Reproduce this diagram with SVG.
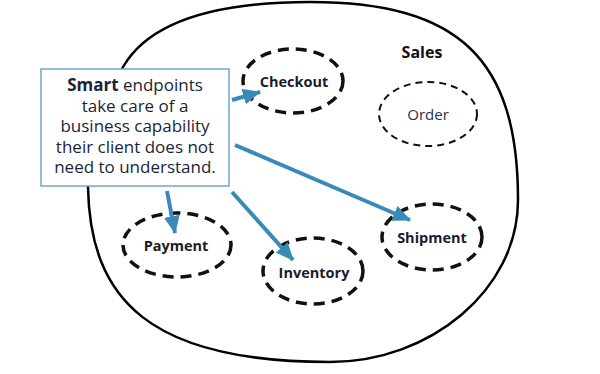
<svg xmlns="http://www.w3.org/2000/svg" width="600" height="374" viewBox="0 0 600 374">
<style>
.ctx{fill:none;stroke:#000;stroke-width:2.5}
.svc{fill:none;stroke:#111;stroke-width:3.5;stroke-dasharray:11 7}
.ent{fill:none;stroke:#111;stroke-width:2;stroke-dasharray:7 5}
.lbl{font-family:"Open Sans","DejaVu Sans",sans-serif;font-size:14.5px;font-weight:bold;fill:#1b1b2b;text-anchor:middle;dominant-baseline:central}
.ord{font-family:"Open Sans","DejaVu Sans",sans-serif;font-size:15px;fill:#1f2f4f;text-anchor:middle;dominant-baseline:central}
.title{font-family:"Open Sans","DejaVu Sans",sans-serif;font-size:16px;font-weight:bold;fill:#111;text-anchor:middle}
.note{font-family:"Open Sans","DejaVu Sans",sans-serif;font-size:17px;fill:#1c2535;text-anchor:middle}
.arr{fill:none;stroke:#3a8ab8;stroke-width:4;marker-end:url(#ah)}
</style>
<defs>
<marker id="ah" markerUnits="userSpaceOnUse" viewBox="0 0 18 16" markerWidth="18" markerHeight="16" refX="17" refY="8" orient="auto">
<path d="M0,0 L18,8 L0,16 z" fill="#3a8ab8"/>
</marker>
</defs>
<g id="sales">
<path class="ctx" d="M88,187 C90,300 150,362 330,362 C430,362 518,290 518,200 C518,60 460,2 310,2 C220,2 150,20 123,67 C105,100 88,140 88,187 Z"/>
<text class="title" x="422" y="58">Sales</text>
</g>
<g id="order">
<ellipse class="ent" cx="428" cy="114" rx="49" ry="32"/>
<text class="ord" x="428" y="114">Order</text>
</g>
<g id="checkout">
<ellipse class="svc" cx="293" cy="81" rx="50" ry="32"/>
<text class="lbl" x="294" y="81">Checkout</text>
</g>
<g id="payment">
<ellipse class="svc" cx="177" cy="245" rx="54" ry="32"/>
<text class="lbl" x="176" y="245">Payment</text>
</g>
<g id="inventory">
<ellipse class="svc" cx="313" cy="271" rx="50" ry="33"/>
<text class="lbl" x="314" y="272">Inventory</text>
</g>
<g id="shipment">
<ellipse class="svc" cx="432" cy="237" rx="50" ry="33"/>
<text class="lbl" x="432" y="237">Shipment</text>
</g>
<g id="connectors">
<line class="arr" x1="232" y1="100" x2="260" y2="92"/>
<line class="arr" x1="235" y1="145" x2="410" y2="220"/>
<line class="arr" x1="167" y1="191" x2="175" y2="233"/>
<line class="arr" x1="232" y1="192" x2="293" y2="260"/>
</g>
<g id="note">
<rect x="41" y="69" width="188" height="117" fill="#fff" stroke="#6fa8c8" stroke-width="1.5"/>
<text class="note" x="135" y="91"><tspan font-weight="bold">Smart</tspan> endpoints</text>
<text class="note" x="135" y="111.5">take care of a</text>
<text class="note" x="135" y="132">business capability</text>
<text class="note" x="135" y="152.5">their client does not</text>
<text class="note" x="135" y="173">need to understand.</text>
</g>
</svg>
